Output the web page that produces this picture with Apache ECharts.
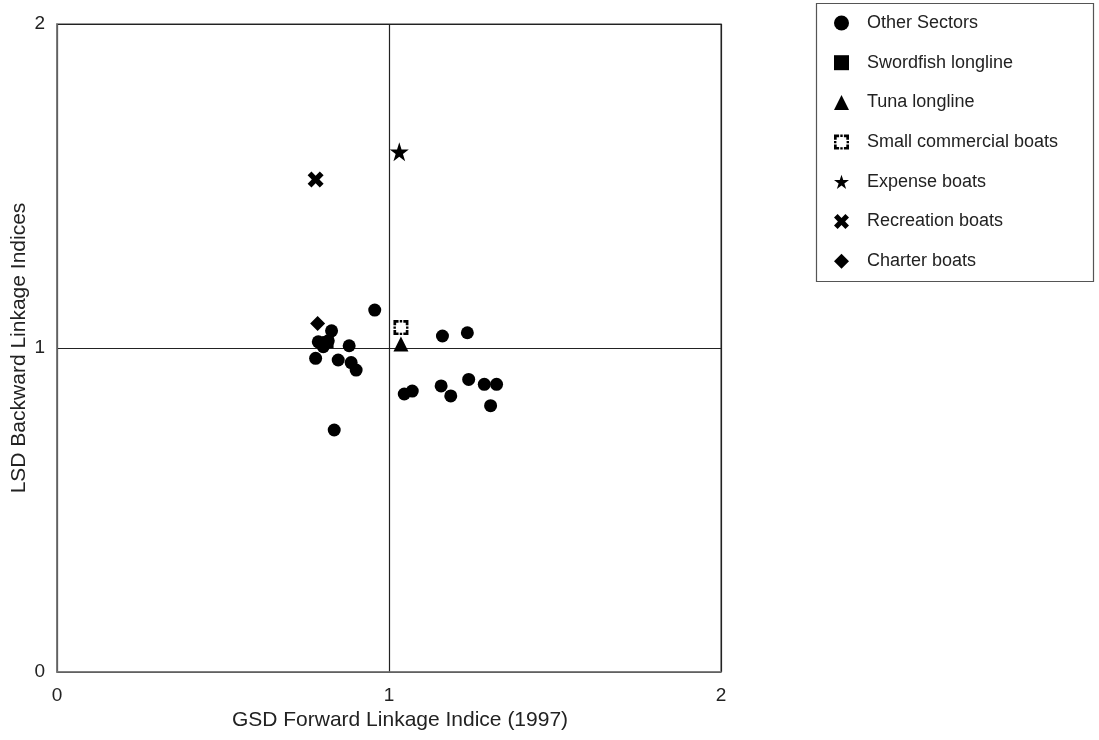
<!DOCTYPE html>
<html>
<head>
<meta charset="utf-8">
<script src="https://cdn.jsdelivr.net/npm/echarts@6/dist/echarts.min.js"></script>
<style>html,body{margin:0;padding:0;background:#fff}#c{width:1099px;height:740px}</style>
</head>
<body>
<div id="c"></div>
<script>
// Data
const otherX = [0.957, 0.827, 0.787, 0.802, 0.817, 0.880, 0.779, 0.847, 0.886, 0.901, 0.835, 1.161, 1.236, 1.046, 1.070, 1.157, 1.186, 1.240, 1.287, 1.324, 1.306];
const otherY = [1.117, 1.053, 1.019, 1.004, 1.022, 1.007, 0.968, 0.963, 0.955, 0.932, 0.747, 1.037, 1.047, 0.858, 0.867, 0.883, 0.852, 0.903, 0.888, 0.888, 0.822];
const swordfish = [0.815, 1.018];
const tuna = [1.036, 1.012];
const smallCommercial = [1.036, 1.063];
const expense = [1.031, 1.606];
const recreation = [0.779, 1.520];
const charter = [0.785, 1.076];
const axisTicks = [0, 1, 2];

const STAR = 'path://M50 0 L61.2 34.5 L97.6 34.5 L68.2 55.9 L79.4 90.5 L50 69.1 L20.6 90.5 L31.8 55.9 L2.4 34.5 L38.8 34.5 Z';
const XMARK = 'path://M0 24 L24 0 L50 26 L76 0 L100 24 L74 50 L100 76 L76 100 L50 74 L24 100 L0 76 L26 50 Z';
const DOTSQ = 'path://M0 0 L34 0 L34 18 L18 18 L18 34 L0 34 Z M66 0 L100 0 L100 34 L82 34 L82 18 L66 18 Z M100 66 L100 100 L66 100 L66 82 L82 82 L82 66 Z M34 100 L0 100 L0 66 L18 66 L18 82 L34 82 Z M42 0 L58 0 L58 16 L42 16 Z M84 42 L100 42 L100 58 L84 58 Z M42 84 L58 84 L58 100 L42 100 Z M0 42 L16 42 L16 58 L0 58 Z';

const chart = echarts.init(document.getElementById('c'));
const font = 'Liberation Sans, Arial, Helvetica, sans-serif';
function s(name, symbol, size, data) {
  return { name, type: 'scatter', symbol, symbolSize: size, data,
    itemStyle: { color: '#000', opacity: 1 }, emphasis: { disabled: true } };
}
const axisCommon = {
  type: 'value', min: 0, max: 2, interval: 1,
  axisLine: { show: true, lineStyle: { color: '#777', width: 1.5 } },
  axisTick: { show: false },
  splitLine: { show: true, lineStyle: { color: '#222', width: 1.2 } },
  nameLocation: 'middle',
  nameMoveOverlap: false,
  nameTextStyle: { fontFamily: font, fontSize: 21, color: '#222' },
  axisLabel: { fontFamily: font, fontSize: 19, color: '#222',
    formatter: v => axisTicks.includes(v) ? String(v) : '' }
};
chart.setOption({
  animation: false,
  backgroundColor: '#fff',
  grid: { left: 57, top: 24, right: 378, bottom: 68, show: true, borderColor: '#777', borderWidth: 1.5,
    containLabel: false, outerBoundsMode: 'none' },
  xAxis: Object.assign({}, axisCommon, { name: 'GSD Forward Linkage Indice (1997)', nameGap: 38,
    nameTextStyle: Object.assign({}, axisCommon.nameTextStyle, { padding: [0, 0, 0, 22] }),
    axisLabel: Object.assign({}, axisCommon.axisLabel, { margin: 14 }) }),
  yAxis: Object.assign({}, axisCommon, { name: 'LSD Backward Linkage Indices', nameGap: 27,
    axisLabel: Object.assign({}, axisCommon.axisLabel, { margin: 12 }) }),
  graphic: [{ type: 'rect', shape: { x: 816.5, y: 3.5, width: 277, height: 278 },
    style: { fill: 'none', stroke: '#555', lineWidth: 1.2 }, z: 0 }],
  legend: {
    orient: 'vertical', left: 817, top: 3, padding: [10, 5, 10, 17],
    itemWidth: 15, itemHeight: 15, itemGap: 19.7,
    textStyle: { fontFamily: font, fontSize: 18, color: '#222', lineHeight: 20, padding: [0, 0, 0, 13] },
    selectedMode: false
  },
  series: [
    s('Other Sectors', 'circle', 13, otherX.map((x, i) => [x, otherY[i]])),
    s('Swordfish longline', 'rect', 12, [swordfish]),
    s('Tuna longline', 'triangle', 15, [tuna]),
    s('Small commercial boats', DOTSQ, 15, [smallCommercial]),
    s('Expense boats', STAR, 19, [expense]),
    s('Recreation boats', XMARK, 16, [recreation]),
    s('Charter boats', 'diamond', 15, [charter])
  ]
});
</script>
</body>
</html>
